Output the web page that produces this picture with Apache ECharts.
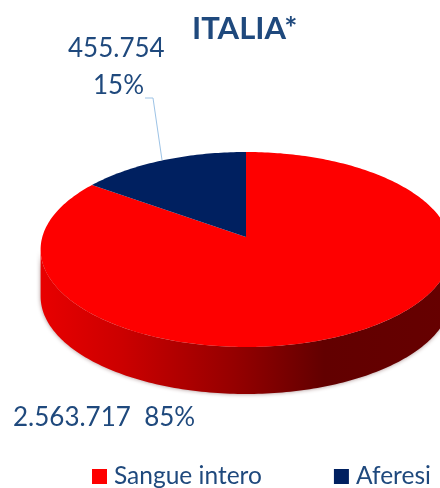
<!DOCTYPE html>
<html>
<head>
<meta charset="utf-8">
<style>
  html, body { margin: 0; padding: 0; background: #fff; }
  #chart { width: 440px; height: 488px; }
</style>
<script src="https://cdn.jsdelivr.net/npm/echarts@6/dist/echarts.min.js"></script>
</head>
<body>
<div id="chart"></div>
<script>
const sliceNames = ['Sangue intero', 'Aferesi'];
const sliceValues = [2563717, 455754];
const sliceColors = ['#fe0000', '#002060'];

const TEXT_COLOR = '#1f497d';
const FONT = 'Lato, "Noto Sans", sans-serif';

// tilted disc: apex on screen, radius, foreshortening, perspective, wall height
const APEX_X = 246, APEX_Y = 237, RX = 203.7, RY = 95.9, PERSP = 0.128, DEPTH = 47;

const total = sliceValues.reduce((a, b) => a + b, 0);

function project(deg, drop) {
  const t = deg * Math.PI / 180;
  const w = 1 + PERSP * Math.cos(t);
  return [APEX_X + RX * Math.sin(t) / w, APEX_Y - RY * Math.cos(t) / w + (drop || 0)];
}

function arc(from, to, drop) {
  const pts = [];
  const n = Math.max(2, Math.ceil(Math.abs(to - from)));
  for (let i = 0; i <= n; i++) pts.push(project(from + (to - from) * i / n, drop));
  return pts;
}

function fmt(v) {
  return String(v).replace(/\B(?=(\d{3})+$)/g, '.');
}
function pct(v) {
  return Math.round(v / total * 100) + '%';
}

// silhouette limits of the wall, where the rim turns away
const wallStart = Math.acos(-PERSP) * 180 / Math.PI;
const wallEnd = 360 - wallStart;

const wallFill = new echarts.graphic.LinearGradient(40, 0, 446, 0, [
  { offset: 0, color: '#e80000' },
  { offset: 0.2, color: '#cc0000' },
  { offset: 0.48, color: '#950000' },
  { offset: 0.7, color: '#620000' },
  { offset: 1, color: '#660000' }
], true);

function renderSlice(params, api) {
  const start = api.value(0) / total * 360;
  const end = api.value(1) / total * 360;
  const color = api.visual('color');
  const children = [];
  const a = Math.max(start, wallStart), b = Math.min(end, wallEnd);
  if (b > a) {
    const top = arc(a, b, 0);
    const bottom = arc(b, a, DEPTH);
    children.push({
      type: 'polygon',
      shape: { points: top.concat(bottom) },
      style: { fill: wallFill, shadowBlur: 4, shadowColor: 'rgba(60,0,0,0.45)' }
    });
  }
  children.push({
    type: 'polygon',
    shape: { points: [[APEX_X, APEX_Y]].concat(arc(start, end, 0)) },
    style: { fill: color }
  });
  return { type: 'group', children: children };
}

let running = 0;
const series = sliceNames.map((name, i) => {
  const from = running;
  running += sliceValues[i];
  return {
    type: 'custom',
    name: name,
    coordinateSystem: 'none',
    silent: true,
    itemStyle: { color: sliceColors[i] },
    renderItem: renderSlice,
    data: [[from, running]]
  };
});

const option = {
  backgroundColor: '#fff',
  animation: false,
  title: {
    text: 'ITALIA*',
    left: 187,
    top: 8,
    textStyle: { color: TEXT_COLOR, fontFamily: FONT, fontSize: 31, fontWeight: 'bold' }
  },
  legend: {
    data: sliceNames,
    left: 92,
    top: 464,
    width: 348,
    padding: 0,
    itemWidth: 15,
    itemHeight: 15,
    itemGap: 72,
    icon: 'rect',
    textStyle: { color: TEXT_COLOR, fontFamily: FONT, fontSize: 24.5, padding: [0, 0, 0, 2] }
  },
  graphic: [
    {
      type: 'text', left: 13, top: 405,
      style: { text: fmt(sliceValues[0]) + '  ' + pct(sliceValues[0]), fill: TEXT_COLOR, font: '26px ' + FONT }
    },
    {
      type: 'text', left: 68, top: 36,
      style: { text: fmt(sliceValues[1]), fill: TEXT_COLOR, font: '26px ' + FONT }
    },
    {
      type: 'text', left: 93, top: 73,
      style: { text: pct(sliceValues[1]), fill: TEXT_COLOR, font: '26px ' + FONT }
    },
    {
      type: 'polyline',
      shape: { points: [[145, 98], [153, 98], [162, 160]] },
      style: { stroke: '#9dc3e6', lineWidth: 1, fill: null }
    }
  ],
  series: series
};

const chart = echarts.init(document.getElementById('chart'));
chart.setOption(option);
</script>
</body>
</html>
